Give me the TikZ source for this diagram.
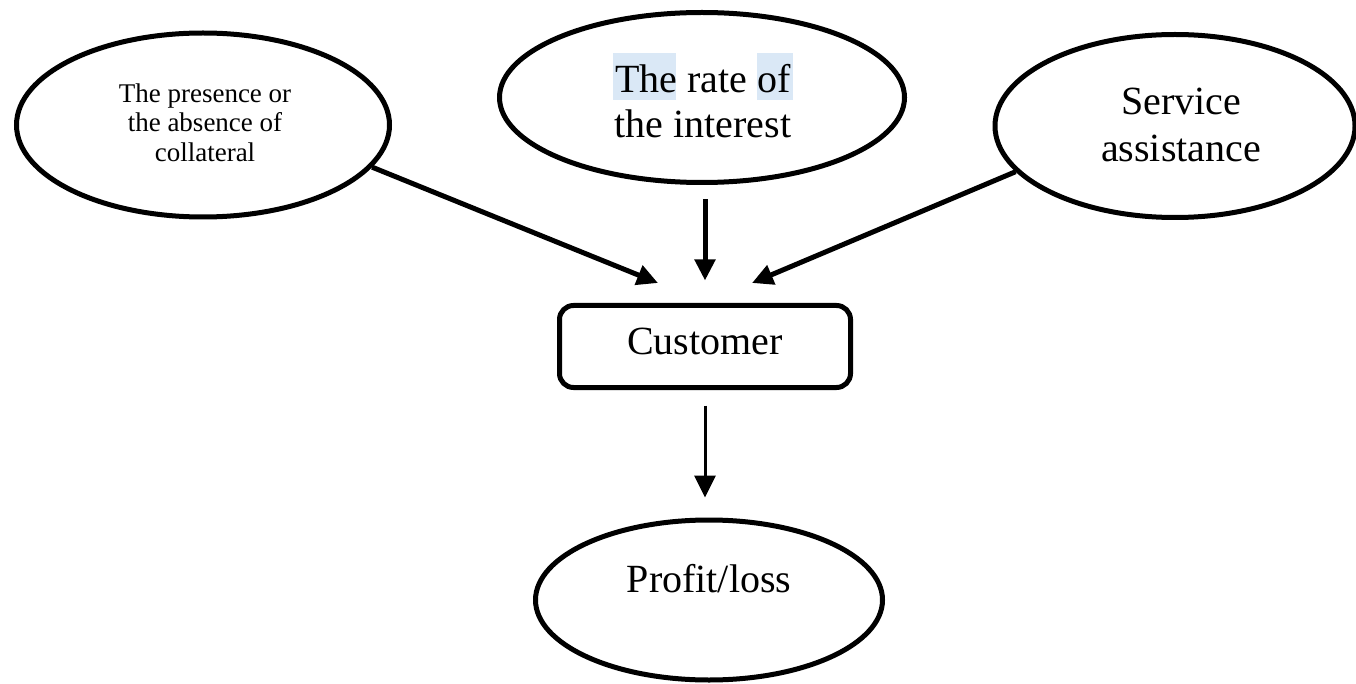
\documentclass[tikz,border=0pt]{standalone}
\usepackage{fontspec}
\setmainfont{Liberation Serif}
\usetikzlibrary{shapes.geometric,arrows.meta}
\definecolor{hl}{RGB}{218,232,246}
\tikzset{
  oval/.style={ellipse, draw, line width=5pt, inner sep=0pt},
  custbox/.style={rectangle, rounded corners=14pt, draw, line width=5pt, inner sep=0pt},
  lbl/.style={align=center, inner sep=0pt},
  bigtxt/.style={font=\fontsize{40}{46}\selectfont},
  arr/.style={line width=5pt, -{Triangle[length=21pt,width=20pt]}},
  thinarr/.style={line width=3pt, -{Triangle[length=22pt,width=21pt]}}
}
\begin{document}
\begin{tikzpicture}[x=1pt,y=-1pt]
\useasboundingbox (0,0) rectangle (1356,684);
% shapes
\node[oval, minimum width=373pt, minimum height=184pt] (e1) at (203,125) {};
\node[oval, minimum width=405pt, minimum height=170pt] (e2) at (702,97.5) {};
\node[oval, minimum width=360pt, minimum height=183pt] (e3) at (1175,126) {};
\node[custbox, minimum width=291pt, minimum height=82pt] (cust) at (705,346.5) {};
\node[oval, minimum width=347pt, minimum height=160pt] (prof) at (709,600) {};
% highlight behind words
\fill[hl] (613,53) rectangle (676,100);
\fill[hl] (757,53) rectangle (793,100);
% texts
\node[lbl, font=\fontsize{27}{29.5}\selectfont] (e1t) at (205,122.5) {The presence or\\the absence of\\collateral};
\node[lbl, bigtxt, font=\fontsize{40}{45}\selectfont] (e2t) at (703,101) {The rate of\\the interest};
\node[lbl, bigtxt, font=\fontsize{40}{47}\selectfont] (e3t) at (1181,124.5) {Service\\assistance};
\node[lbl, bigtxt] (custt) at (705,341.5) {Customer};
\node[lbl, bigtxt] (proft) at (709,579) {Profit/loss};
% arrow tips
\coordinate (t1) at (658,283);
\coordinate (t3) at (752,283);
% connectors
\draw[arr] (e1.-14) -- (t1);
\draw[arr] (e3.-164.7) -- (t3);
\draw[arr, shorten <=14.5pt, shorten >=22.5pt] (cust.north |- e2.south) -- (cust.north);
\draw[thinarr, shorten <=15.5pt, shorten >=20pt] (cust.south) -- (cust.south |- prof.north);
\end{tikzpicture}
\end{document}
